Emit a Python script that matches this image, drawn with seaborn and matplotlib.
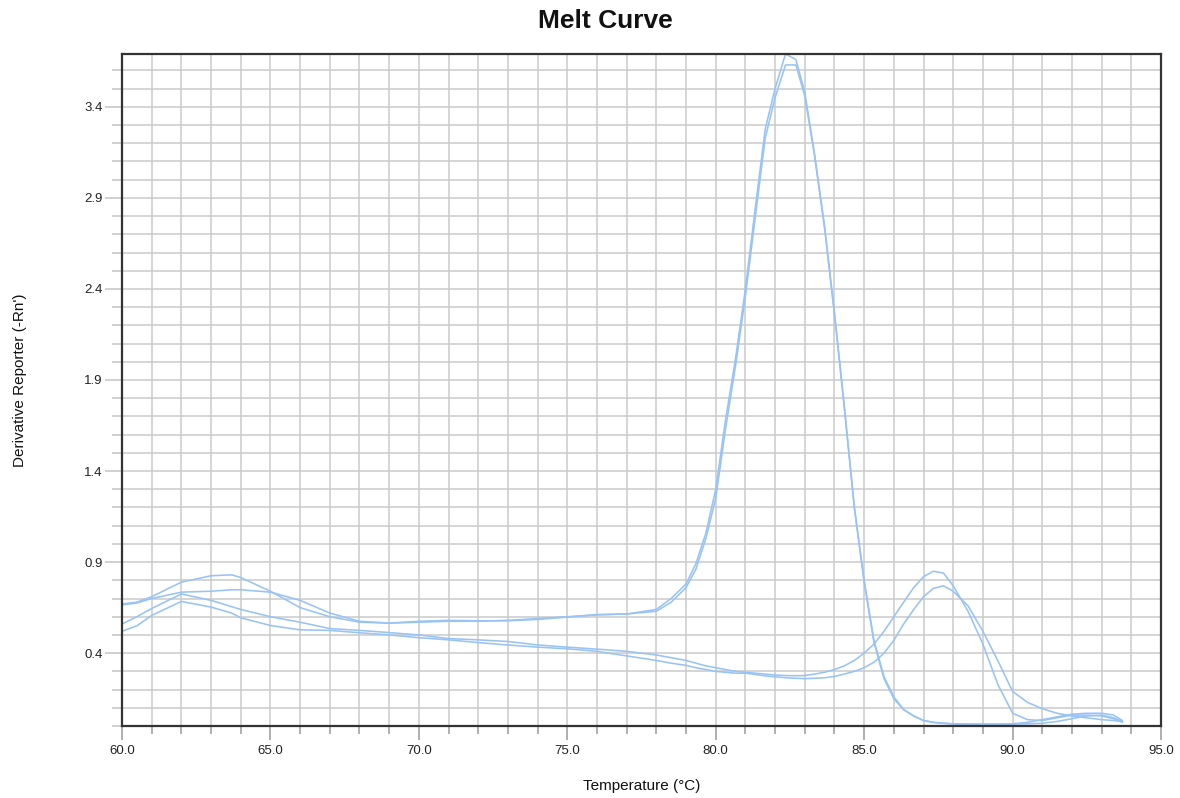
import numpy as np
import pandas as pd
import matplotlib
matplotlib.use("Agg")
import matplotlib.pyplot as plt
from matplotlib.ticker import MultipleLocator, FormatStrFormatter
import seaborn as sns

# ---- data ----
temperature = [60, 60.5, 61, 62, 63, 63.7, 64, 65, 66, 67, 68, 69, 70, 71, 72, 73, 74,
               75, 76, 77, 78, 78.5, 79, 79.33, 79.67, 80, 80.33, 80.67, 81, 81.33,
               81.67, 82, 82.35, 82.7, 83, 83.33, 83.67, 84, 84.33, 84.67, 85, 85.33,
               85.67, 86, 86.33, 86.67, 87, 87.33, 87.67, 88, 88.5, 89, 89.5, 90, 90.5,
               91, 91.5, 92, 92.5, 93, 93.4, 93.7]

well_a = [0.67, 0.68, 0.71, 0.79, 0.825, 0.83, 0.815, 0.74, 0.65, 0.60, 0.57, 0.565,
          0.57, 0.575, 0.575, 0.58, 0.59, 0.60, 0.61, 0.615, 0.64, 0.70, 0.78, 0.89,
          1.06, 1.3, 1.68, 2.02, 2.4, 2.84, 3.28, 3.5, 3.69, 3.66, 3.48, 3.14, 2.74,
          2.27, 1.76, 1.2, 0.8, 0.47, 0.27, 0.16, 0.09, 0.055, 0.03, 0.02, 0.015,
          0.012, 0.01, 0.01, 0.01, 0.012, 0.02, 0.035, 0.05, 0.065, 0.07, 0.07, 0.06,
          0.03]

well_b = [0.665, 0.675, 0.70, 0.735, 0.74, 0.748, 0.748, 0.735, 0.69, 0.62, 0.575,
          0.565, 0.575, 0.58, 0.578, 0.578, 0.585, 0.598, 0.612, 0.615, 0.63, 0.68,
          0.76, 0.86, 1.03, 1.25, 1.63, 1.98, 2.36, 2.79, 3.23, 3.45, 3.63, 3.63, 3.46,
          3.13, 2.73, 2.26, 1.75, 1.2, 0.79, 0.46, 0.26, 0.15, 0.09, 0.055, 0.03,
          0.02, 0.015, 0.012, 0.01, 0.01, 0.01, 0.01, 0.012, 0.015, 0.025, 0.04,
          0.055, 0.06, 0.045, 0.025]

well_c = [0.56, 0.60, 0.645, 0.725, 0.69, 0.655, 0.64, 0.60, 0.57, 0.535, 0.525,
          0.513, 0.50, 0.48, 0.473, 0.464, 0.445, 0.433, 0.422, 0.41, 0.39, 0.375,
          0.36, 0.345, 0.33, 0.32, 0.31, 0.30, 0.295, 0.29, 0.285, 0.28, 0.277,
          0.276, 0.277, 0.285, 0.295, 0.31, 0.33, 0.36, 0.40, 0.45, 0.52, 0.60, 0.68,
          0.76, 0.82, 0.85, 0.84, 0.77, 0.63, 0.45, 0.23, 0.07, 0.035, 0.03, 0.045,
          0.06, 0.06, 0.055, 0.04, 0.02]

well_d = [0.52, 0.55, 0.607, 0.684, 0.653, 0.62, 0.594, 0.552, 0.528, 0.525, 0.512,
          0.50, 0.485, 0.473, 0.458, 0.445, 0.433, 0.424, 0.41, 0.385, 0.36, 0.345,
          0.333, 0.32, 0.31, 0.30, 0.295, 0.29, 0.29, 0.283, 0.275, 0.27, 0.265,
          0.262, 0.26, 0.262, 0.265, 0.272, 0.285, 0.30, 0.32, 0.35, 0.40, 0.47,
          0.56, 0.64, 0.71, 0.755, 0.77, 0.74, 0.66, 0.52, 0.36, 0.19, 0.13, 0.095,
          0.07, 0.055, 0.045, 0.035, 0.03, 0.025]

well_names = ["A1", "A2", "B1", "B2"]
x_tick_values = [60, 65, 70, 75, 80, 85, 90, 95]
y_tick_values = [0.4, 0.9, 1.4, 1.9, 2.4, 2.9, 3.4]

# ---- build long table ----
frames = []
for name, vals in zip(well_names, [well_a, well_b, well_c, well_d]):
    frames.append(pd.DataFrame({"Temperature": temperature,
                                "Derivative": vals,
                                "Well": name}))
df = pd.concat(frames, ignore_index=True)

sns.set_theme(style="white")
plt.rcParams['font.family'] = ['Liberation Sans', 'DejaVu Sans']

W, H = 1180, 798
fig = plt.figure(figsize=(W / 100, H / 100), dpi=100)
left, right, top, bottom = 122, 1161, 54, 726
ax = fig.add_axes([left / W, (H - bottom) / H, (right - left) / W, (bottom - top) / H])

line_color = "#98c3f5"
sns.lineplot(data=df, x="Temperature", y="Derivative", units="Well",
             estimator=None, sort=False, color=line_color, linewidth=1.15,
             legend=False, ax=ax)

ax.set_xlim(60, 95)
ax.set_ylim(0, 3.69)

ax.xaxis.set_major_locator(plt.FixedLocator(x_tick_values))
ax.xaxis.set_minor_locator(MultipleLocator(1))
ax.xaxis.set_major_formatter(FormatStrFormatter("%.1f"))
ax.yaxis.set_major_locator(plt.FixedLocator(y_tick_values))
ax.yaxis.set_minor_locator(MultipleLocator(0.1))
ax.yaxis.set_major_formatter(FormatStrFormatter("%.1f"))

ax.set_axisbelow(True)
ax.grid(which="both", color="#cacaca", linewidth=1.1)

ax.tick_params(axis="y", which="major", length=12, width=1.1, color="#c4c4c4",
               pad=2, labelsize=9.5, labelcolor="#222222", left=True)
ax.tick_params(axis="y", which="minor", length=7, width=1.1, color="#c4c4c4", left=True)
ax.tick_params(axis="x", which="major", length=10, width=1.1, color="#9a9a9a",
               pad=4, labelsize=9.5, labelcolor="#222222", bottom=True)
ax.tick_params(axis="x", which="minor", length=6, width=1.1, color="#9a9a9a", bottom=True)

for side in ["left", "bottom", "top", "right"]:
    ax.spines[side].set_visible(True)
    ax.spines[side].set_color("#333333")
    ax.spines[side].set_linewidth(1.6)

ax.set_xlabel("Temperature (°C)", fontsize=11, color="#111111")
ax.set_ylabel("Derivative Reporter (-Rn')", fontsize=11, color="#111111")
ax.xaxis.set_label_coords(0.5, -0.079)
ax.yaxis.set_label_coords(-0.091, 0.515)

fig.text(605 / W, 1 - 21 / H, "Melt Curve", ha="center", va="center",
         fontsize=19, fontweight="bold", color="#111111")

fig.savefig("out.png", dpi=100, facecolor="white")
